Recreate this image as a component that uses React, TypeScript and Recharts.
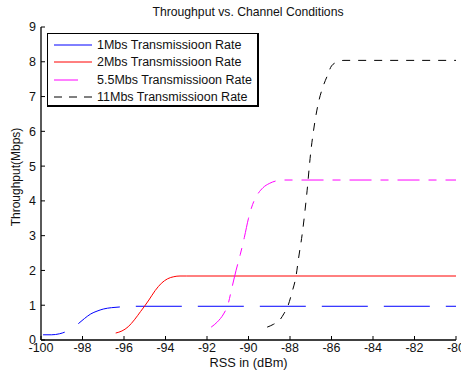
import React from "react";
import { LineChart, Line, XAxis, YAxis } from "recharts";

// tick values
const xTicks = [-100, -98, -96, -94, -92, -90, -88, -86, -84, -82, -80];
const yTicks = [0, 1, 2, 3, 4, 5, 6, 7, 8, 9];

// 1 Mbps
const rate1X = [-99.9, -99.5, -99.1, -98.8, -98.5, -98.2, -97.9, -97.6, -97.3, -97.0, -96.6, -96.2, -95.8, -80];
const rate1Y = [0.15, 0.15, 0.18, 0.24, 0.34, 0.47, 0.62, 0.75, 0.83, 0.89, 0.93, 0.95, 0.97, 0.97];

// 2 Mbps
const rate2X = [-96.4, -96.1, -95.8, -95.5, -95.2, -95.0, -94.8, -94.5, -94.2, -93.9, -93.6, -93.3, -93.0, -80];
const rate2Y = [0.2, 0.26, 0.38, 0.58, 0.82, 0.98, 1.15, 1.42, 1.63, 1.76, 1.82, 1.84, 1.84, 1.84];

// 5.5 Mbps
const rate55X = [-91.8, -91.5, -91.2, -91.0, -90.8, -90.6, -90.4, -90.2, -90.0, -89.8, -89.6, -89.3, -89.0, -88.7, -88.4, -80];
const rate55Y = [0.37, 0.52, 0.75, 1.0, 1.5, 2.0, 2.45, 2.95, 3.5, 3.9, 4.15, 4.38, 4.5, 4.57, 4.6, 4.6];

// 11 Mbps
const rate11X = [-89.1, -88.8, -88.5, -88.3, -88.1, -87.9, -87.7, -87.6, -87.4, -87.2, -87.0, -86.8, -86.6, -86.4, -86.2, -86.0, -85.7, -85.4, -80];
const rate11Y = [0.37, 0.45, 0.57, 0.75, 0.98, 1.38, 1.87, 2.3, 3.1, 4.15, 5.4, 6.28, 6.9, 7.3, 7.6, 7.88, 8.0, 8.04, 8.04];

const zip = (xs: number[], ys: number[]) => xs.map((x, i) => ({ x, y: ys[i] }));

const series = [
  { name: "1Mbs Transmissioon Rate", data: zip(rate1X, rate1Y), color: "#0000ff", dash: "46 16", offset: 24, sample: "38" },
  { name: "2Mbs Transmissioon Rate", data: zip(rate2X, rate2Y), color: "#ff0000", dash: undefined, offset: 0, sample: "38" },
  { name: "5.5Mbs Transmissioon Rate", data: zip(rate55X, rate55Y), color: "#ff00ff", dash: "22 9 8 9", offset: 0, sample: "24 20" },
  { name: "11Mbs Transmissioon Rate", data: zip(rate11X, rate11Y), color: "#000000", dash: "8 8", offset: 0, sample: "8 7" },
];

const font = "Arial, 'Liberation Sans', Helvetica, sans-serif";
const tickStyle = { fontSize: 12.5, fill: "#111", fontFamily: font };

export default function App() {
  return (
    <div style={{ position: "absolute", left: 0, top: 0, width: 461, height: 373, background: "#fff", fontFamily: font }}>
      <div style={{ position: "absolute", left: 0, width: 496, top: 5, textAlign: "center", fontSize: 12.2, color: "#111" }}>
        Throughput vs. Channel Conditions
      </div>
      <div style={{ position: "absolute", left: 41, width: 415, top: 355, textAlign: "center", fontSize: 12.8, color: "#111" }}>
        RSS in (dBm)
      </div>
      <div
        style={{
          position: "absolute",
          left: 16,
          top: 177,
          transform: "translate(-50%, -50%) rotate(-90deg)",
          fontSize: 12,
          color: "#111",
          whiteSpace: "nowrap",
        }}
      >
        Throughput(Mbps)
      </div>

      <LineChart width={461} height={373} margin={{ top: 27, right: 5, bottom: 13, left: 16 }}>
        <XAxis
          xAxisId="b"
          type="number"
          dataKey="x"
          domain={[-100, -80]}
          ticks={xTicks}
          interval={0}
          height={20}
          tick={tickStyle}
          tickSize={-4}
          tickMargin={7}
          stroke="#000"
          axisLine={{ stroke: "#000", strokeWidth: 1.3 }}
          allowDataOverflow
        />
        <XAxis
          xAxisId="t"
          orientation="top"
          type="number"
          dataKey="x"
          domain={[-100, -80]}
          ticks={xTicks}
          interval={0}
          height={0}
          tick={false}
          tickSize={-4}
          stroke="#000"
          axisLine={{ stroke: "#000", strokeWidth: 1.3 }}
        />
        <YAxis
          yAxisId="l"
          type="number"
          domain={[0, 9]}
          ticks={yTicks}
          interval={0}
          width={25}
          tick={tickStyle}
          tickSize={-4}
          tickMargin={9}
          stroke="#000"
          axisLine={{ stroke: "#000", strokeWidth: 1.3 }}
        />
        <YAxis
          yAxisId="r"
          orientation="right"
          type="number"
          domain={[0, 9]}
          ticks={yTicks}
          interval={0}
          width={0}
          tick={false}
          tickSize={-4}
          stroke="#000"
          axisLine={{ stroke: "#000", strokeWidth: 1.3 }}
        />
        {series.map((s) => (
          <Line
            key={s.name}
            xAxisId="b"
            yAxisId="l"
            data={s.data}
            dataKey="y"
            type="monotone"
            stroke={s.color}
            strokeWidth={1}
            strokeDasharray={s.dash}
            strokeDashoffset={s.offset}
            dot={false}
            activeDot={false}
            isAnimationActive={false}
          />
        ))}
      </LineChart>

      <div
        style={{
          position: "absolute",
          left: 47,
          top: 33,
          width: 209,
          height: 71,
          border: "1px solid #000",
          borderRightWidth: 2,
          borderBottomWidth: 2,
          background: "#fff",
        }}
      >
        {series.map((s, i) => (
          <div key={s.name} style={{ position: "absolute", left: 6, top: 3 + i * 17.3, height: 16, display: "flex", alignItems: "center" }}>
            <svg width={40} height={4} style={{ display: "block" }}>
              <line x1={0} y1={2} x2={38} y2={2} stroke={s.color} strokeWidth={1} strokeDasharray={s.sample} />
            </svg>
            <span style={{ marginLeft: 3, fontSize: 12.5, color: "#111", whiteSpace: "nowrap" }}>{s.name}</span>
          </div>
        ))}
      </div>
    </div>
  );
}
